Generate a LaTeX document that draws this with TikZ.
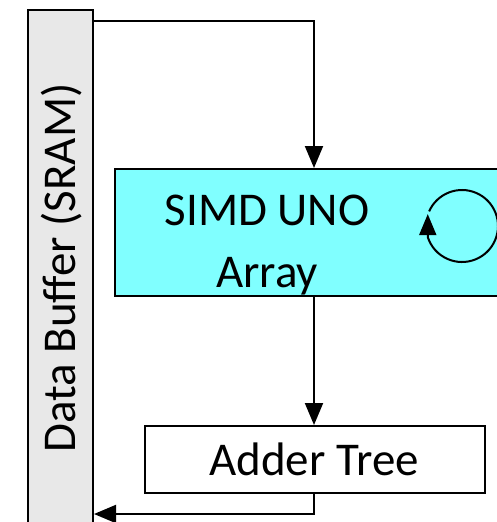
\documentclass[tikz,border=0pt]{standalone}
\usepackage{fontspec}
\setmainfont{Carlito}
\usetikzlibrary{arrows.meta}
\definecolor{bufgray}{HTML}{E8E8E8}
\definecolor{simdcyan}{HTML}{80FFFF}
\tikzset{
  blk/.style={draw=black, line width=2pt, inner sep=0pt},
  conn/.style={draw=black, line width=2pt, -{Triangle[width=18pt,length=22pt]}},
  lbl/.style={font=\fontsize{47}{56}\selectfont, inner sep=0pt}
}
\begin{document}
\begin{tikzpicture}[x=1pt,y=-1pt]
\useasboundingbox (0,0) rectangle (497,522);
\clip (0,0) rectangle (497,522);
% data buffer
\node[blk, fill=bufgray, minimum width=65pt, minimum height=530pt, anchor=north west] (buf) at (27,9) {};
\node[lbl, rotate=90] (buftxt) at (62,268) {Data Buffer (SRAM)};
% SIMD array
\node[blk, fill=simdcyan, minimum width=420pt, minimum height=127pt, anchor=north west] (simd) at (114,168) {};
\node[lbl] (simdtxt) at (267,210) {SIMD UNO};
\node[lbl] (arrtxt) at (267,276) {Array};
% adder tree
\node[blk, minimum width=340pt, minimum height=67pt, anchor=north west] (add) at (144,425) {};
\node[lbl] (addtxt) at (314,459) {Adder Tree};
% connectors
\coordinate (c1) at (314,21);
\draw[conn] (buf.north east |- c1) -- (c1) -- (c1 |- simd.north);
\draw[conn] (c1 |- simd.south) -- (c1 |- add.north);
\coordinate (c2) at (314,514);
\draw[conn] (c1 |- add.south) -- (c2) -- (buf.east |- c2);
% loop
\coordinate (lc) at (462,226);
\draw[line width=2pt, -{Triangle[width=17pt,length=21pt]}] ([shift={(-156:36)}]lc) arc[start angle=-156, end angle=162, radius=36] -- ++(0,-23);
\end{tikzpicture}
\end{document}
